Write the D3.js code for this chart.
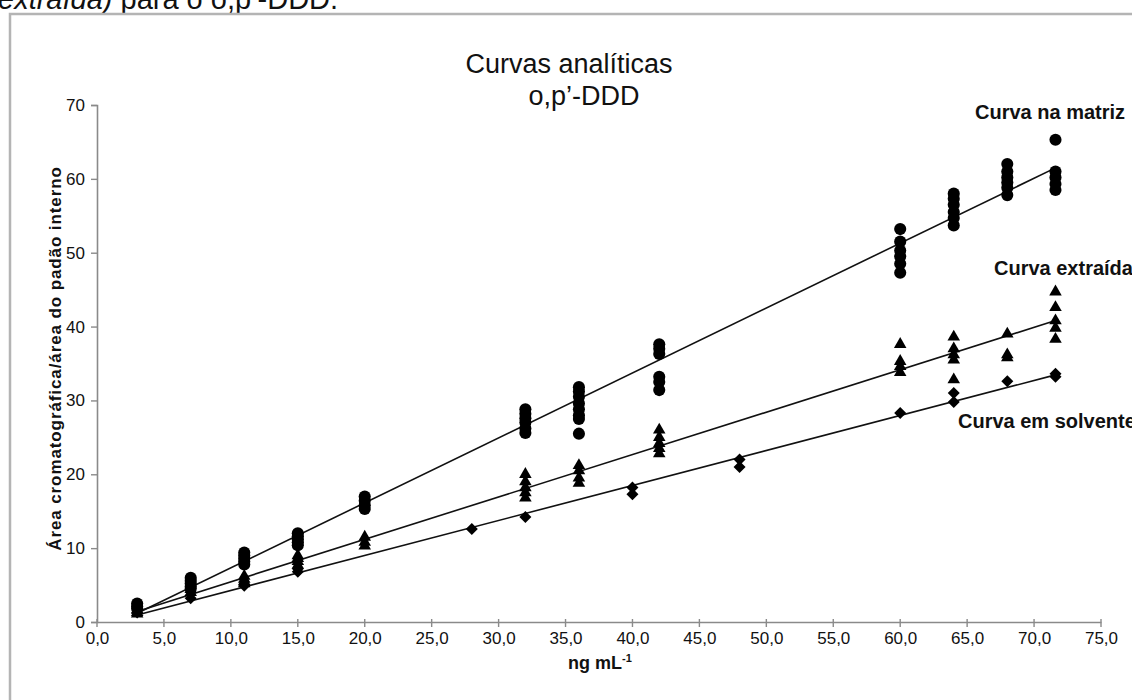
<!DOCTYPE html>
<html>
<head>
<meta charset="utf-8">
<script src="https://cdn.jsdelivr.net/npm/d3@7"></script>
<style>
  html, body { margin: 0; padding: 0; background: #fff; overflow: hidden; }
  svg { display: block; font-family: "Liberation Sans", Arial, sans-serif; }
</style>
</head>
<body>
<svg id="chart" width="1132" height="700"></svg>
<script>
// ---------------- data ----------------
const titleLines = ["Curvas analíticas", "o,p’-DDD"];
const xAxisTitle = "ng mL";
const xAxisSup = "-1";
const yAxisTitle = "Área cromatográfica/área do padão interno";
const xTickValues = [0, 5, 10, 15, 20, 25, 30, 35, 40, 45, 50, 55, 60, 65, 70, 75];
const yTickValues = [0, 10, 20, 30, 40, 50, 60, 70];

// Curva na matriz (circles)
const matriz = [
  [3, 2.5], [3, 2.1], [3, 1.8],
  [7, 6.0], [7, 5.6], [7, 5.2], [7, 4.8], [7, 4.5],
  [11, 9.4], [11, 9.0], [11, 8.6], [11, 8.2], [11, 7.8],
  [15, 12.0], [15, 11.6], [15, 11.2], [15, 10.8], [15, 10.4],
  [20, 17.0], [20, 16.4], [20, 15.8], [20, 15.3],
  [32, 28.8], [32, 28.2], [32, 27.6], [32, 27.0], [32, 26.2], [32, 25.6],
  [36, 31.8], [36, 31.2], [36, 30.5], [36, 29.6], [36, 28.8], [36, 28.0], [36, 27.5], [36, 25.5],
  [42, 37.6], [42, 37.0], [42, 36.3], [42, 33.2], [42, 32.5], [42, 31.4],
  [60, 53.2], [60, 51.5], [60, 50.3], [60, 49.5], [60, 48.5], [60, 47.3],
  [64, 58.0], [64, 57.3], [64, 56.5], [64, 55.5], [64, 54.7], [64, 53.7],
  [68, 62.0], [68, 61.0], [68, 60.2], [68, 59.5], [68, 58.8], [68, 57.8],
  [71.6, 65.3], [71.6, 61.0], [71.6, 60.2], [71.6, 59.3], [71.6, 58.5]
];
// Curva extraída (triangles)
const extraida = [
  [3, 1.6], [3, 1.3], [3, 1.1],
  [7, 4.4], [7, 4.0],
  [11, 6.2], [11, 5.8], [11, 5.5], [11, 5.2],
  [15, 9.0], [15, 8.6], [15, 8.2], [15, 7.7],
  [20, 11.5], [20, 10.8], [20, 10.3],
  [32, 20.0], [32, 19.0], [32, 18.2], [32, 17.5], [32, 16.8],
  [36, 21.2], [36, 20.5], [36, 19.5], [36, 18.8],
  [42, 26.0], [42, 25.0], [42, 24.2], [42, 23.5], [42, 22.8],
  [60, 37.6], [60, 35.3], [60, 34.6], [60, 33.8],
  [64, 38.6], [64, 37.0], [64, 36.2], [64, 35.5], [64, 32.8],
  [68, 39.0], [68, 36.2], [68, 35.8],
  [71.6, 44.7], [71.6, 42.6], [71.6, 40.8], [71.6, 39.8], [71.6, 38.3]
];
// Curva em solvente (diamonds)
const solvente = [
  [3, 1.3],
  [7, 3.2],
  [11, 4.9],
  [15, 7.2], [15, 6.8],
  [28, 12.6],
  [32, 14.2],
  [40, 18.2], [40, 17.3],
  [48, 22.0], [48, 21.0],
  [60, 28.3],
  [64, 31.0], [64, 29.8],
  [68, 32.6],
  [71.6, 33.6], [71.6, 33.2]
];
const seriesNames = ["Curva na matriz", "Curva extraída", "Curva em solvente"];

// ---------------- layout ----------------
const svg = d3.select("#chart");
const plot = { left: 97, right: 1101, top: 105, bottom: 622 };

const x = d3.scaleLinear().domain([0, 75]).range([plot.left, plot.right]);
const y = d3.scaleLinear().domain([0, 70]).range([plot.bottom, plot.top]);

const fmtX = v => d3.format(".1f")(v).replace(".", ",");

// caption fragment at very top (clipped, as in the source page)
const cap = svg.append("text").attr("x", -2).attr("y", 9)
  .attr("font-size", 29).attr("fill", "#111");
cap.append("tspan").attr("font-style", "italic").text("extraída)");
cap.append("tspan").text(" para o o,p’-DDD.");

// frame of the chart
svg.append("rect").attr("x", 10).attr("y", 14).attr("width", 1200).attr("height", 800)
  .attr("fill", "#fff").attr("stroke", "#b4b4b4").attr("stroke-width", 2.5);

// title
svg.append("g").selectAll("text").data(titleLines).join("text")
  .attr("x", (d, i) => i === 0 ? 569 : 584).attr("y", (d, i) => 73 + i * 32)
  .attr("text-anchor", "middle").attr("font-size", 27).attr("fill", "#111")
  .text(d => d);

// axes
const axisColor = "#8a8a8a";
const xAxis = d3.axisBottom(x).tickValues(xTickValues).tickFormat(fmtX).tickSize(0).tickPadding(10);
const gx = svg.append("g").attr("transform", `translate(0,${plot.bottom})`).call(xAxis);
gx.select(".domain").attr("stroke", axisColor).attr("stroke-width", 1.6);
gx.selectAll(".tick text").attr("font-size", 17).attr("fill", "#111")
  .attr("font-family", "Liberation Sans, Arial, sans-serif");
// cross ticks on x axis
svg.append("g").selectAll("line").data(xTickValues).join("line")
  .attr("x1", d => x(d)).attr("x2", d => x(d))
  .attr("y1", plot.bottom - 3).attr("y2", plot.bottom + 5)
  .attr("stroke", axisColor).attr("stroke-width", 1.4);

const yAxis = d3.axisLeft(y).tickValues(yTickValues).tickFormat(d3.format("d")).tickSize(6).tickPadding(6);
const gy = svg.append("g").attr("transform", `translate(${plot.left},0)`).call(yAxis);
gy.select(".domain").attr("stroke", axisColor).attr("stroke-width", 1.6);
gy.selectAll(".tick line").attr("stroke", axisColor).attr("stroke-width", 1.4);
gy.selectAll(".tick text").attr("font-size", 17).attr("fill", "#111")
  .attr("font-family", "Liberation Sans, Arial, sans-serif");

// axis titles
const xt = svg.append("text").attr("x", 568).attr("y", 669)
  .attr("font-size", 18).attr("font-weight", "bold").attr("fill", "#111");
xt.append("tspan").text(xAxisTitle);
xt.append("tspan").attr("font-size", 11).attr("dy", -7).text(xAxisSup);

svg.append("text")
  .attr("transform", `translate(61,${(plot.top + plot.bottom) / 2 - 5}) rotate(-90)`)
  .attr("text-anchor", "middle").attr("font-size", 17).attr("font-weight", "bold").attr("fill", "#111")
  .attr("letter-spacing", 0.9)
  .text(yAxisTitle);

// regression lines (least squares on each series)
function fit(data) {
  const mx = d3.mean(data, d => d[0]), my = d3.mean(data, d => d[1]);
  const sxy = d3.sum(data, d => (d[0] - mx) * (d[1] - my));
  const sxx = d3.sum(data, d => (d[0] - mx) ** 2);
  const b = sxy / sxx, a = my - b * mx;
  const [x0, x1] = d3.extent(data, d => d[0]);
  return [[x0, a + b * x0], [x1, a + b * x1]];
}
const line = d3.line().x(d => x(d[0])).y(d => y(d[1]));
const allSeries = [matriz, extraida, solvente];
svg.append("g").selectAll("path").data(allSeries.map(fit)).join("path")
  .attr("d", line).attr("fill", "none").attr("stroke", "#111").attr("stroke-width", 1.6);

// markers
const g = svg.append("g").attr("fill", "#000");
g.selectAll("path.c").data(matriz).join("path").attr("class", "c")
  .attr("transform", d => `translate(${x(d[0])},${y(d[1])})`)
  .attr("d", d3.symbol(d3.symbolCircle, 115));
g.selectAll("path.t").data(extraida).join("path").attr("class", "t")
  .attr("transform", d => `translate(${x(d[0])},${y(d[1])})`)
  .attr("d", d3.symbol(d3.symbolTriangle, 68));
g.selectAll("path.d").data(solvente).join("path").attr("class", "d")
  .attr("transform", d => `translate(${x(d[0])},${y(d[1])}) rotate(45)`)
  .attr("d", d3.symbol(d3.symbolSquare, 72));

// series labels
const labelPos = [[975, 119], [994, 275], [958, 428]];
svg.append("g").selectAll("text").data(seriesNames).join("text")
  .attr("x", (d, i) => labelPos[i][0]).attr("y", (d, i) => labelPos[i][1])
  .attr("font-size", 20).attr("font-weight", "bold").attr("fill", "#111")
  .text(d => d);
</script>
</body>
</html>
